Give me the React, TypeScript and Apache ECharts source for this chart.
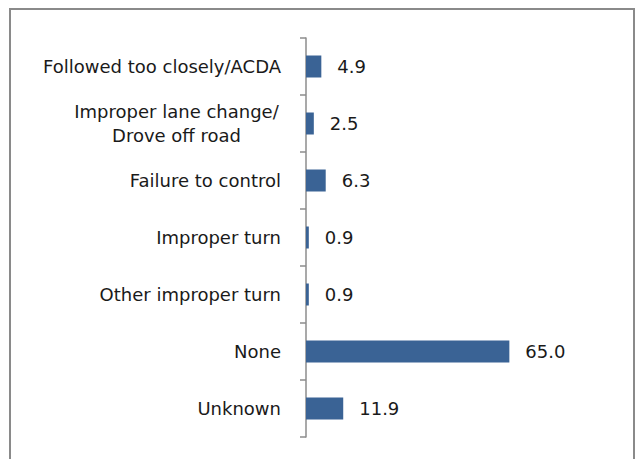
import React, { useEffect, useRef } from "react";
import * as echarts from "echarts";

const categories = [
  "Followed too closely/ACDA",
  "Improper lane change/\nDrove off road",
  "Failure to control",
  "Improper turn",
  "Other improper turn",
  "None",
  "Unknown",
];
const values = [4.9, 2.5, 6.3, 0.9, 0.9, 65.0, 11.9];

const FONT = "DejaVu Sans, sans-serif";

export default function App() {
  const ref = useRef<HTMLDivElement>(null);
  useEffect(() => {
    document.body.style.margin = "0";
    const chart = echarts.init(ref.current!, undefined, { renderer: "svg" });
    chart.setOption({
      animation: false,
      backgroundColor: "#ffffff",
      graphic: [
        {
          type: "rect",
          shape: { x: 10, y: 9, width: 624, height: 470 },
          style: { fill: "none", stroke: "#8a8a8a", lineWidth: 2 },
          silent: true,
          z: 0,
        },
      ],
      grid: { left: 306, top: 38, width: 219, height: 399 },
      xAxis: { type: "value", min: 0, max: 70, show: false },
      yAxis: {
        type: "category",
        data: categories,
        inverse: true,
        axisLine: { show: true, lineStyle: { color: "#8c8c8c", width: 1.5 } },
        axisTick: { show: true, length: 6, lineStyle: { color: "#8c8c8c", width: 1.5 } },
        axisLabel: {
          color: "#1a1a1a",
          fontFamily: FONT,
          fontSize: 18,
          lineHeight: 24,
          margin: 25,
          align: "right",
          formatter: (v: string) =>
            v.includes("\n")
              ? v
                  .split("\n")
                  .map((s) => `{c|${s}}`)
                  .join("\n")
              : v,
          rich: {
            c: {
              width: 209,
              align: "center",
              color: "#1a1a1a",
              fontFamily: FONT,
              fontSize: 18,
              lineHeight: 24,
            },
          },
        },
        splitLine: { show: false },
      },
      series: [
        {
          type: "bar",
          data: values,
          barWidth: 22,
          itemStyle: { color: "#3A6395" },
          label: {
            show: true,
            position: "right",
            distance: 16,
            formatter: (p: any) => Number(p.value).toFixed(1),
            color: "#1a1a1a",
            fontFamily: FONT,
            fontSize: 18,
          },
        },
      ],
    });
    return () => chart.dispose();
  }, []);
  return (
    <div
      ref={ref}
      style={{ position: "fixed", left: 0, top: 0, width: 636, height: 459 }}
    />
  );
}
